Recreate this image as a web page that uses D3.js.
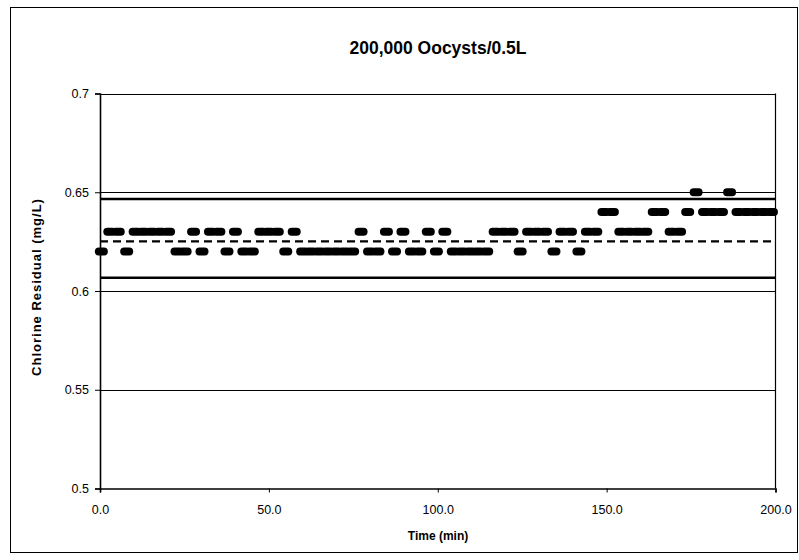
<!DOCTYPE html>
<html><head><meta charset="utf-8">
<script src="https://cdn.jsdelivr.net/npm/d3@7"></script>
<style>body{margin:0;background:#fff}svg{display:block}</style>
</head><body>
<svg id="chart" width="799" height="560"></svg>
<script>
const title = "200,000 Oocysts/0.5L";
const xLabel = "Time (min)";
const yLabel = "Chlorine Residual (mg/L)";

const times = [
  0.4, 2.9, 5.4, 7.9, 10.4, 12.8, 15.3, 17.8, 20.3, 22.8,
  25.2, 27.7, 30.2, 32.7, 35.2, 37.6, 40.1, 42.6, 45.1, 47.6,
  50.0, 52.5, 55.0, 57.5, 60.0, 62.4, 64.9, 67.4, 69.9, 72.4,
  74.8, 77.3, 79.8, 82.3, 84.8, 87.2, 89.7, 92.2, 94.7, 97.2,
  99.6, 102.1, 104.6, 107.1, 109.6, 112.0, 114.5, 117.0, 119.5, 122.0,
  124.4, 126.9, 129.4, 131.9, 134.4, 136.8, 139.3, 141.8, 144.3, 146.8,
  149.2, 151.7, 154.2, 156.7, 159.2, 161.6, 164.1, 166.6, 169.1, 171.6,
  174.0, 176.5, 179.0, 181.5, 184.0, 186.4, 188.9, 191.4, 193.9, 196.4,
  198.8
];
const residual = [
  0.62,0.63,0.63,0.62,0.63,0.63,0.63,0.63,0.63,0.62,
  0.62,0.63,0.62,0.63,0.63,0.62,0.63,0.62,0.62,0.63,
  0.63,0.63,0.62,0.63,0.62,0.62,0.62,0.62,0.62,0.62,
  0.62,0.63,0.62,0.62,0.63,0.62,0.63,0.62,0.62,0.63,
  0.62,0.63,0.62,0.62,0.62,0.62,0.62,0.63,0.63,0.63,
  0.62,0.63,0.63,0.63,0.62,0.63,0.63,0.62,0.63,0.63,
  0.64,0.64,0.63,0.63,0.63,0.63,0.64,0.64,0.63,0.63,
  0.64,0.65,0.64,0.64,0.64,0.65,0.64,0.64,0.64,0.64,
  0.64
];

const lineTimes = [0, 200];
const meanLine = [0.6251, 0.6251];
const upperLimit = [0.6466, 0.6466];
const lowerLimit = [0.6067, 0.6067];

const xTicks = [0, 50, 100, 150, 200];
const xTickLabels = ["0.0", "50.0", "100.0", "150.0", "200.0"];
const yTicks = [0.5, 0.55, 0.6, 0.65, 0.7];
const yTickLabels = ["0.5", "0.55", "0.6", "0.65", "0.7"];

const svg = d3.select("#chart");
const font = "'Liberation Sans', Arial, Helvetica, sans-serif";

// outer chart border
svg.append("rect").attr("x", 10.5).attr("y", 7.5).attr("width", 787).attr("height", 545)
  .attr("fill", "#fff").attr("stroke", "#000").attr("stroke-width", 1);

const x = d3.scaleLinear().domain([0, 200]).range([100, 775.5]);
const y = d3.scaleLinear().domain([0.5, 0.7]).range([488.5, 93.5]);

// gridlines
svg.append("g").selectAll("line").data(yTicks.filter(v => v > 0.5)).join("line")
  .attr("x1", x(0)).attr("x2", x(200))
  .attr("y1", d => Math.round(y(d)) + 0.5).attr("y2", d => Math.round(y(d)) + 0.5)
  .attr("stroke", "#000").attr("stroke-width", 1);

// right border of plot area
svg.append("line").attr("x1", x(200)).attr("x2", x(200)).attr("y1", y(0.7)).attr("y2", y(0.5))
  .attr("stroke", "#000").attr("stroke-width", 1.2);

// control lines
const lineGen = d3.line().x(d => x(d[0])).y(d => y(d[1]));
const mk = arr => lineTimes.map((t, i) => [t, arr[i]]);
svg.append("path").attr("d", lineGen(mk(upperLimit))).attr("fill", "none")
  .attr("stroke", "#000").attr("stroke-width", 2.4);
svg.append("path").attr("d", lineGen(mk(lowerLimit))).attr("fill", "none")
  .attr("stroke", "#000").attr("stroke-width", 2.4);
svg.append("path").attr("d", lineGen(mk(meanLine))).attr("fill", "none")
  .attr("stroke", "#000").attr("stroke-width", 2.3).attr("stroke-dasharray", "8,5");

// axes
const yAxis = d3.axisLeft(y).tickValues(yTicks).tickSize(5).tickPadding(6)
  .tickFormat((d, i) => yTickLabels[i]);
const gy = svg.append("g").attr("transform", `translate(${x(0)},0)`).call(yAxis);
const xAxis = d3.axisBottom(x).tickValues(xTicks).tickSize(4).tickPadding(13)
  .tickFormat((d, i) => xTickLabels[i]);
const gx = svg.append("g").attr("transform", `translate(0,${y(0.5)})`).call(xAxis);
[gx, gy].forEach(g => {
  g.select(".domain").attr("stroke", "#000").attr("stroke-width", 1.6);
  g.selectAll(".tick line").attr("stroke", "#000");
  g.selectAll("text").attr("fill", "#000").attr("font-family", font).attr("font-size", 12.5);
});

// data points: oval markers (round-capped strokes) that merge into bars when adjacent
svg.append("g").selectAll("line").data(times.map((t, i) => [t, residual[i]])).join("line")
  .attr("x1", d => x(d[0]) - 2.5).attr("x2", d => x(d[0]) + 2.5)
  .attr("y1", d => y(d[1])).attr("y2", d => y(d[1]))
  .attr("stroke", "#000").attr("stroke-width", 8).attr("stroke-linecap", "round");

// titles
svg.append("text").attr("x", 438).attr("y", 54).attr("text-anchor", "middle")
  .attr("font-family", font).attr("font-weight", "bold").attr("font-size", 17.5).text(title);
svg.append("text").attr("x", 438).attr("y", 540).attr("text-anchor", "middle")
  .attr("font-family", font).attr("font-weight", "bold").attr("font-size", 12).text(xLabel);
svg.append("text").attr("transform", "translate(41,287) rotate(-90)").attr("text-anchor", "middle")
  .attr("font-family", font).attr("font-weight", "bold").attr("font-size", 13)
  .attr("letter-spacing", 1).text(yLabel);
</script>
</body></html>
